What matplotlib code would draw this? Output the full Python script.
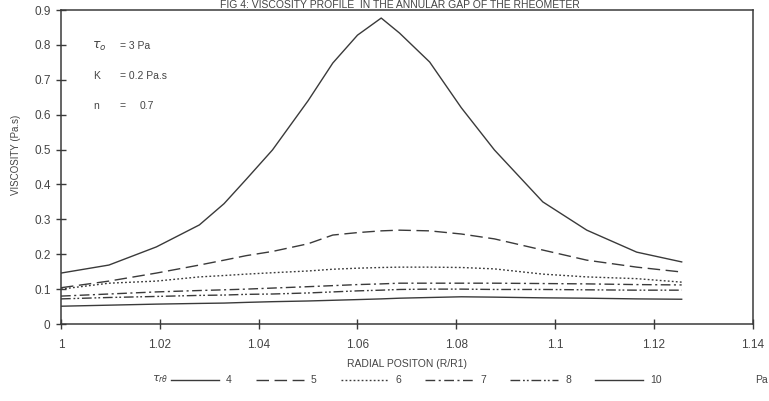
import matplotlib
matplotlib.use("Agg")
import matplotlib.pyplot as plt

plt.rcParams['font.family'] = ['Liberation Sans', 'DejaVu Sans']

# Radial position grid (R/R1)
x = [1.0, 1.0097, 1.0193, 1.028, 1.033, 1.0375, 1.0428, 1.050, 1.055, 1.060, 1.0648,
     1.0685, 1.0746, 1.081, 1.0877, 1.0975, 1.1064, 1.1165, 1.1256]

# Viscosity (Pa.s) for each shear stress tau_r-theta
visc_4 = [0.146, 0.169, 0.221, 0.284, 0.345, 0.415, 0.499, 0.64, 0.748, 0.828, 0.877,
          0.834, 0.751, 0.62, 0.499, 0.350, 0.269, 0.206, 0.178]
visc_5 = [0.104, 0.123, 0.146, 0.169, 0.183, 0.196, 0.208, 0.230, 0.255, 0.262, 0.267,
          0.269, 0.267, 0.258, 0.244, 0.212, 0.183, 0.163, 0.149]
visc_6 = [0.100, 0.117, 0.123, 0.135, 0.139, 0.143, 0.147, 0.152, 0.157, 0.160, 0.162,
          0.163, 0.163, 0.162, 0.158, 0.143, 0.135, 0.130, 0.120]
visc_7 = [0.080, 0.086, 0.092, 0.096, 0.098, 0.100, 0.103, 0.107, 0.110, 0.113, 0.115,
          0.117, 0.117, 0.117, 0.117, 0.116, 0.115, 0.113, 0.112]
visc_8 = [0.072, 0.076, 0.079, 0.082, 0.083, 0.085, 0.086, 0.089, 0.092, 0.095, 0.097,
          0.099, 0.100, 0.100, 0.099, 0.099, 0.098, 0.097, 0.097]
visc_10 = [0.051, 0.054, 0.057, 0.059, 0.060, 0.062, 0.064, 0.066, 0.068, 0.070, 0.072,
           0.074, 0.076, 0.078, 0.077, 0.075, 0.074, 0.072, 0.071]

labels = ['4', '5', '6', '7', '8', '10']
series = [visc_4, visc_5, visc_6, visc_7, visc_8, visc_10]
styles = ['-', (0, (9, 4)), (0, (1.3, 1.6)), (0, (7, 2.5, 1.5, 2.5)),
          (0, (7, 2, 1.3, 1.5, 1.3, 2)), '-']

xticks = [1, 1.02, 1.04, 1.06, 1.08, 1.1, 1.12, 1.14]
xticklabels = ['1', '1.02', '1.04', '1.06', '1.08', '1.1', '1.12', '1.14']
yticks = [0, 0.1, 0.2, 0.3, 0.4, 0.5, 0.6, 0.7, 0.8, 0.9]
yticklabels = ['0', '0.1', '0.2', '0.3', '0.4', '0.5', '0.6', '0.7', '0.8', '0.9']

col = '#3a3a3a'
tcol = '#444444'
fig = plt.figure(figsize=(7.69, 4.01), dpi=100)
ax = fig.add_axes([0.0793, 0.192, 0.8997, 0.783])

handles = []
for y, lab, ls in zip(series, labels, styles):
    h, = ax.plot(x, y, color=col, lw=1.0, linestyle=ls, label=lab)
    handles.append(h)

ax.set_xlim(1, 1.14)
ax.set_ylim(0, 0.9)
ax.set_xticks(xticks)
ax.set_xticklabels(xticklabels)
ax.set_yticks(yticks)
ax.set_yticklabels(yticklabels)
ax.tick_params(direction='inout', length=7, width=1, colors=col,
               labelsize=8.5, labelcolor=tcol, pad=4)
ax.tick_params(axis='x', pad=7)
for s in ax.spines.values():
    s.set_color(col)
    s.set_linewidth(1.1)

ax.set_xlabel('RADIAL POSITON (R/R1)', fontsize=7.5, color=tcol, labelpad=6)
ax.set_ylabel('VISCOSITY (Pa.s)', fontsize=7, color=tcol)
ax.yaxis.set_label_coords(-0.058, 0.54)

# Parameter annotations
ax.text(0.045, 0.885, r'$\tau_{o}$', transform=ax.transAxes, fontsize=9, color=tcol,
        va='center')
ax.text(0.085, 0.885, '= 3 Pa', transform=ax.transAxes, fontsize=7.5, color=tcol, va='center')
ax.text(0.047, 0.79, 'K', transform=ax.transAxes, fontsize=7.5, color=tcol, va='center')
ax.text(0.085, 0.79, '= 0.2 Pa.s', transform=ax.transAxes, fontsize=7.5, color=tcol, va='center')
ax.text(0.047, 0.695, 'n', transform=ax.transAxes, fontsize=7.5, color=tcol, va='center')
ax.text(0.085, 0.695, '=', transform=ax.transAxes, fontsize=7.5, color=tcol, va='center')
ax.text(0.114, 0.695, '0.7', transform=ax.transAxes, fontsize=7.5, color=tcol, va='center')

# Title at the very top of the scan
fig.text(0.52, 0.999, 'FIG 4: VISCOSITY PROFILE  IN THE ANNULAR GAP OF THE RHEOMETER',
         ha='center', va='top', fontsize=7.5, color=tcol)

# Legend row
leg = fig.legend(handles=handles, labels=labels, loc='center left', ncol=6,
                 bbox_to_anchor=(0.222, 0.052), frameon=False, fontsize=7.5,
                 borderaxespad=0, borderpad=0,
                 handlelength=4.6, handletextpad=0.65, columnspacing=2.35)
for t in leg.get_texts():
    t.set_color(tcol)
fig.text(0.208, 0.055, r'$\tau_{r\theta}$', ha='center', va='center', fontsize=8, color=tcol)
fig.text(0.99, 0.052, 'Pa', ha='center', va='center', fontsize=7.5, color=tcol)

fig.savefig('out.png', dpi=100)
